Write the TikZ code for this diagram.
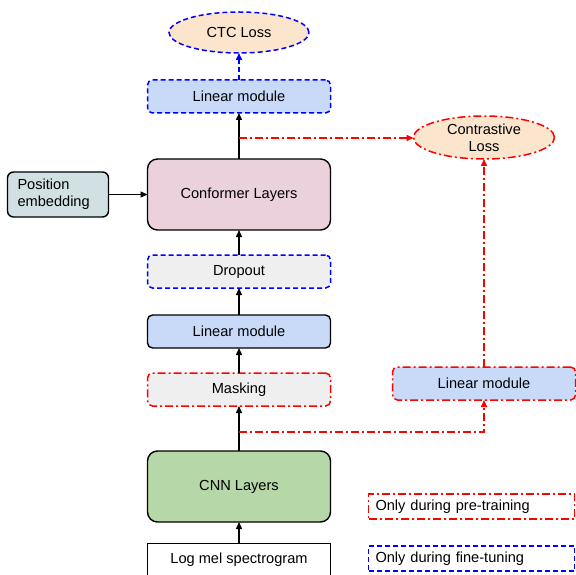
\documentclass[tikz,border=0pt]{standalone}
\usepackage{fontspec}
\setmainfont{Liberation Sans}
\usetikzlibrary{shapes.geometric, arrows.meta, positioning, calc}
\definecolor{lossOrange}{HTML}{FCE5CD}
\definecolor{linearBlue}{HTML}{C9DAF8}
\definecolor{conformerPink}{HTML}{EAD1DC}
\definecolor{posGray}{HTML}{D0E0E3}
\definecolor{maskGray}{HTML}{EFEFEF}
\definecolor{cnnGreen}{HTML}{B6D7A8}

\begin{document}
\begin{tikzpicture}[
    x=1pt, y=-1pt,
    font=\fontsize{14.6}{17}\selectfont,
    every node/.style={outer sep=0pt},
    block/.style={rectangle, draw, rounded corners=5pt, minimum width=183pt, minimum height=33pt, inner sep=0pt, line width=1.4pt},
    big/.style={block, minimum height=71pt, rounded corners=10pt},
    loss/.style={ellipse, fill=lossOrange, minimum width=140pt, minimum height=41pt, inner sep=0pt, align=center, line width=1.4pt},
    pretrain/.style={draw=red, dash pattern=on 8pt off 3pt on 2pt off 3pt, line width=1.5pt},
    finetune/.style={draw=blue, dash pattern=on 5pt off 3pt, line width=1.5pt},
    legend/.style={rectangle, minimum width=206pt, minimum height=25pt, text width=192pt, inner xsep=7pt, align=left},
    arrow/.style={-{Triangle[length=7pt,width=6pt]}, line width=1.4pt}
]
\useasboundingbox (0,0) rectangle (576,575);

\node[rectangle, draw, line width=0.9pt, minimum width=183pt, minimum height=33pt, inner sep=0pt] (logmel) at (239,559.5) {Log mel spectrogram};

\node[big, fill=cnnGreen, above=21pt of logmel] (cnn) {CNN Layers};

\node[block, fill=maskGray, pretrain, above=45pt of cnn] (masking) {Masking};

\node[block, fill=linearBlue, above=25pt of masking] (linmid) {Linear module};

\node[block, fill=maskGray, finetune, above=27pt of linmid] (dropout) {Dropout};

\node[big, fill=conformerPink, above=25pt of dropout] (conformer) {Conformer Layers};

\node[block, fill=linearBlue, finetune, above=46pt of conformer] (lintop) {Linear module};

\node[loss, finetune, above=27pt of lintop] (ctc) {CTC Loss};

\node[rectangle, draw, rounded corners=6pt, fill=posGray, line width=1.4pt, minimum height=45pt, text width=81pt, inner xsep=10pt, align=left, left=39pt of conformer] (posemb) {Position\\embedding};

\node[block, fill=linearBlue, pretrain, right=62pt of masking, yshift=6pt] (linright) {Linear module};

\node[loss, pretrain, minimum width=141pt, minimum height=43pt, above=208pt of linright] (contrast) {Contrastive\\Loss};

\node[legend, pretrain, right=38pt of cnn, yshift=-20pt] (legpre) {Only during pre-training};

\node[legend, finetune, below=27pt of legpre] (legfine) {Only during fine-tuning};

\coordinate (splitmask) at ([yshift=19pt]cnn.north);
\coordinate (splitconf) at ([yshift=21pt]conformer.north);

\draw[arrow] (logmel) -- (cnn);
\draw[arrow] (cnn) -- (masking);
\draw[arrow] (masking) -- (linmid);
\draw[arrow] (linmid) -- (dropout);
\draw[arrow] (dropout) -- (conformer);
\draw[arrow] (conformer) -- (lintop);
\draw[arrow] (posemb) -- (conformer);
\draw[arrow, finetune, blue] (lintop) -- (ctc);
\draw[arrow, pretrain, red] (splitmask) -| (linright.south);
\draw[arrow, pretrain, red] (splitconf) -- (splitconf -| contrast.west);
\draw[arrow, pretrain, red] (linright) -- (contrast);

\end{tikzpicture}
\end{document}
